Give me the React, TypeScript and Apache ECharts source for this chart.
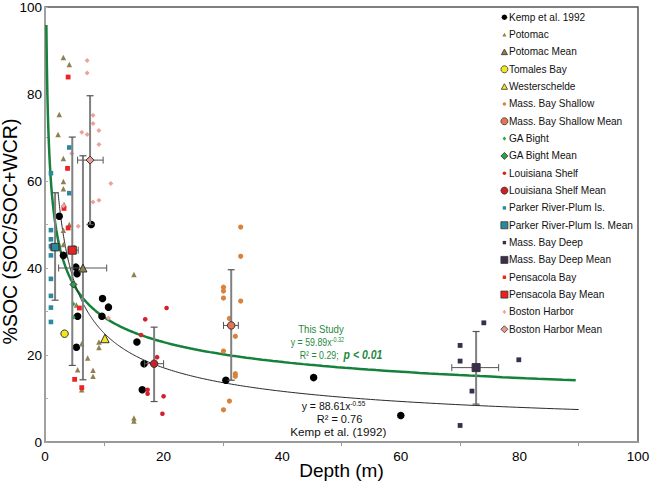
import React, { useEffect, useRef } from "react";
import * as echarts from "echarts";

// ---------- data ----------
const kemp = [[2.4,51.9],[3.1,42.9],[5.2,40.2],[5.4,38.7],[5.5,28.9],[5.3,21.8],[7.8,50.0],[9.7,33.0],[10.7,31.0],[9.6,28.9],[15.5,23.0],[16.7,18.0],[16.4,12.0],[30.5,14.2],[45.3,14.8],[60.0,6.1]];
const potomac = [[3.1,88.4],[4.1,86.8],[2.4,75.3],[2.2,70.7],[3.1,65.2],[3.1,59.9],[3.1,58.2],[3.2,54.6],[4.1,50.0],[3.1,48.7],[3.1,45.4],[5.3,31.5],[15.0,38.5],[6.2,22.6],[9.1,23.0],[9.1,21.7],[7.2,19.3],[5.5,16.6],[8.1,16.5],[8.1,15.1],[6.2,12.0],[15.0,5.5],[15.0,4.8]];
const potomacMean = [[6.4,40.0]];
const tomales = [[3.3,24.9]];
const westerschelde = [[10.1,23.8]];
const massShallow = [[33.0,49.4],[33.0,42.7],[30.1,35.6],[30.1,34.7],[30.1,33.1],[33.0,32.4],[31.1,28.4],[32.1,24.3],[30.1,20.9],[32.1,15.7],[32.1,15.1],[31.1,9.4],[30.1,7.4]];
const massShallowMean = [[31.4,26.8]];
const gaBight = [[4.9,44.8],[4.8,31.7],[4.8,28.7]];
const gaBightMean = [[4.8,36.2]];
const louisiana = [[20.5,30.8],[16.9,28.2],[16.2,24.6],[18.9,19.5],[17.3,12.0],[17.3,11.1],[20.0,10.5],[19.8,6.5]];
const louisianaMean = [[18.4,18.0]];
const parker = [[1.0,61.8],[4.1,67.7],[4.1,57.2],[1.0,48.7],[1.0,46.6],[1.0,45.0],[1.0,42.9],[1.0,37.5],[1.0,33.6],[1.0,30.9],[1.0,27.6]];
const parkerMean = [[1.7,44.8]];
const massDeep = [[74.0,27.4],[70.0,22.2],[70.0,18.6],[79.9,18.9],[72.0,11.7],[70.0,3.8]];
const massDeepMean = [[72.7,17.1]];
const pensacola = [[3.9,83.9],[3.8,62.9],[3.2,53.7],[3.9,49.2],[5.8,30.8],[5.0,14.4],[6.2,12.5]];
const pensacolaMean = [[4.6,44.1]];
const boston = [[7.1,87.7],[7.1,84.8],[8.1,75.1],[8.1,73.2],[9.1,71.6],[6.2,71.2],[7.1,70.7],[9.1,68.4],[4.5,66.3],[11.1,59.4],[9.1,55.6],[8.1,55.2],[3.1,54.3],[5.6,49.6],[10.7,28.5]];
const bostonMean = [[7.6,64.8]];

// error ranges of the means: [xLow, xHigh, yLow, yHigh]
const potomacErr = [2.3, 10.4, 14.3, 65.8];
const parkerErr = [0.9, 2.5, 32.6, 57.3];
const pensacolaErr = [3.9, 5.6, 17.6, 70.1];
const bostonErr = [5.5, 9.8, 50.0, 79.6];
const louisianaErr = [16.8, 20.0, 9.3, 26.4];
const massShallowErr = [30.1, 32.6, 14.2, 39.6];
const massDeepErr = [68.6, 76.5, 8.7, 25.4];

// fitted power laws shown in the chart: y = a * x^b
const thisStudyFit = { a: 59.89, b: -0.32, xMin: 0.23, xMax: 89.5 };
const kempFit = { a: 88.61, b: -0.55, xMin: 2.2, xMax: 90 };

const xTicks = [0, 20, 40, 60, 80, 100];
const yTicks = [0, 20, 40, 60, 80, 100];

// ---------- styling ----------
const FONT = '"Liberation Sans", Arial, sans-serif';
const GREEN = "#1f8a3f";
const BORDER = "#333";
const SQUEEZE = 0.84;

const SMALL_CIRCLE = "path://M0,0M7,7M3.5,1.7L4.8,2.2L5.3,3.5L4.8,4.8L3.5,5.3L2.2,4.8L1.7,3.5L2.2,2.2Z";
const SMALL_RECT = "path://M0,0M7,7M1.8,1.8L5.2,1.8L5.2,5.2L1.8,5.2Z";
const SMALL_TRI = "path://M0,0M7,7M3.5,1.5L5.6,5.3L1.4,5.3Z";
const SMALL_DIAMOND = "path://M0,0M7,7M3.5,1.4L5.3,3.5L3.5,5.6L1.7,3.5Z";
const MID_TRI = "path://M0,0M7,7M3.5,0.6L6.6,6.2L0.4,6.2Z";
const MID_CIRCLE = "path://M0,0M7,7M3.5,0.7L5.5,1.5L6.3,3.5L5.5,5.5L3.5,6.3L1.5,5.5L0.7,3.5L1.5,1.5Z";
const MEAN_ICON_STYLE = { borderColor: BORDER, borderWidth: 0.8 };

function fitCurve(f: { a: number; b: number; xMin: number; xMax: number }) {
  const pts: number[][] = [];
  const n = 240;
  for (let i = 0; i <= n; i++) {
    const x = f.xMin * Math.pow(f.xMax / f.xMin, i / n);
    pts.push([x, f.a * Math.pow(x, f.b)]);
  }
  return pts;
}

function withErr(mean: number[][], err: number[]) {
  return [mean[0][0], mean[0][1], err[0], err[1], err[2], err[3]];
}

const errorData = [
  withErr(parkerMean, parkerErr),
  withErr(pensacolaMean, pensacolaErr),
  withErr(potomacMean, potomacErr),
  withErr(bostonMean, bostonErr),
  withErr(louisianaMean, louisianaErr),
  withErr(massShallowMean, massShallowErr),
  withErr(massDeepMean, massDeepErr),
];

function raw(name: string, data: number[][], symbol: string, size: number, color: string) {
  return {
    name, type: "scatter", data, symbol, symbolSize: size,
    itemStyle: { color, opacity: 1 }, z: 3,
  };
}
function mean(name: string, data: number[][], symbol: string, size: number, color: string) {
  return {
    name, type: "scatter", data, symbol, symbolSize: size,
    itemStyle: { color, borderColor: BORDER, borderWidth: 1, opacity: 1 }, z: 5,
  };
}

export default function App() {
  const ref = useRef<HTMLDivElement>(null);
  useEffect(() => {
    if (!ref.current) return;
    const chart = echarts.init(ref.current, undefined, { renderer: "svg" });

    const legendData = [
      { name: "Kemp et al. 1992", icon: MID_CIRCLE },
      { name: "Potomac", icon: SMALL_TRI },
      { name: "Potomac Mean", icon: MID_TRI, itemStyle: MEAN_ICON_STYLE },
      { name: "Tomales Bay", icon: "circle", itemStyle: MEAN_ICON_STYLE },
      { name: "Westerschelde", icon: MID_TRI, itemStyle: MEAN_ICON_STYLE },
      { name: "Mass. Bay Shallow", icon: SMALL_CIRCLE },
      { name: "Mass. Bay Shallow Mean", icon: "circle", itemStyle: MEAN_ICON_STYLE },
      { name: "GA Bight", icon: SMALL_DIAMOND },
      { name: "GA Bight Mean", icon: "diamond", itemStyle: MEAN_ICON_STYLE },
      { name: "Louisiana Shelf", icon: SMALL_CIRCLE },
      { name: "Louisiana Shelf Mean", icon: "circle", itemStyle: MEAN_ICON_STYLE },
      { name: "Parker River-Plum Is.", icon: SMALL_RECT },
      { name: "Parker River-Plum Is. Mean", icon: "rect", itemStyle: MEAN_ICON_STYLE },
      { name: "Mass. Bay Deep", icon: SMALL_RECT },
      { name: "Mass. Bay Deep Mean", icon: "rect", itemStyle: MEAN_ICON_STYLE },
      { name: "Pensacola Bay", icon: SMALL_RECT },
      { name: "Pensacola Bay Mean", icon: "rect", itemStyle: MEAN_ICON_STYLE },
      { name: "Boston Harbor", icon: SMALL_DIAMOND },
      { name: "Boston Harbor Mean", icon: "diamond", itemStyle: MEAN_ICON_STYLE },
    ];

    const option: any = {
      animation: false,
      backgroundColor: "#fff",
      grid: { left: 45, right: 12, top: 7, bottom: 42, outerBoundsMode: "none", containLabel: false,
        show: true, borderColor: "#555", borderWidth: 1.5, backgroundColor: "transparent" },
      xAxis: {
        type: "value", min: 0, max: 100, interval: 20,
        name: "Depth (m)", nameLocation: "middle", nameGap: 19, nameMoveOverlap: false,
        nameTextStyle: { fontSize: 19, fontFamily: FONT, color: "#000" },
        axisLine: { show: true, lineStyle: { color: "#999", width: 2 } },
        axisTick: { show: false },
        minorTick: { show: true, splitNumber: 2, length: 4, lineStyle: { color: "#999", width: 1 } },
        axisLabel: { fontSize: 13.5, fontFamily: FONT, color: "#000", margin: 7, showMaxLabel: true, showMinLabel: true,
          formatter: (v: number) => (xTicks.includes(v) ? String(v) : "") },
        splitLine: { show: false },
      },
      yAxis: {
        type: "value", min: 0, max: 100, interval: 20,
        name: "%SOC (SOC/SOC+WCR)", nameLocation: "middle", nameGap: 25, nameMoveOverlap: false,
        nameTextStyle: { fontSize: 19.5, fontFamily: FONT, color: "#000", padding: [0, 14, 0, 0] },
        axisLine: { show: true, lineStyle: { color: "#a0a0a0", width: 2 } },
        axisTick: { show: true, inside: true, length: 3, lineStyle: { color: "#aaa" } },
        minorTick: { show: true, splitNumber: 2, length: 3, lineStyle: { color: "#aaa", width: 1 } },
        axisLabel: { fontSize: 13.5, fontFamily: FONT, color: "#000", margin: 3,
          formatter: (v: number) => (yTicks.includes(v) ? String(v) : "") },
        splitLine: { show: false },
      },
      legend: {
        orient: "vertical", left: 500.5, top: 10.8, padding: 0,
        itemWidth: 7, itemHeight: 7, itemGap: 4.33, selectedMode: false,
        itemStyle: { borderWidth: 0 },
        textStyle: { fontSize: 10.1, fontFamily: FONT, color: "#111", lineHeight: 13, padding: [0, 0, 0, -4] },
        data: legendData,
      },
      series: [
        { name: "This Study fit", type: "line", data: fitCurve(thisStudyFit), showSymbol: false, symbol: "none",
          lineStyle: { color: "#16813a", width: 2.5 }, z: 2, silent: true },
        { name: "Kemp fit", type: "line", data: fitCurve(kempFit), showSymbol: false, symbol: "none",
          lineStyle: { color: "#2a2a2a", width: 1 }, z: 2, silent: true },
        raw("Kemp et al. 1992", kemp, "circle", 7.5, "#000"),
        raw("Potomac", potomac, "triangle", 5.5, "#8e8050"),
        raw("Mass. Bay Shallow", massShallow, "circle", 5.2, "#d8823c"),
        raw("GA Bight", gaBight, "diamond", 4.5, "#1fb04a"),
        raw("Louisiana Shelf", louisiana, "circle", 4.6, "#d3202a"),
        raw("Parker River-Plum Is.", parker, "rect", 4.6, "#2a8a9c"),
        raw("Mass. Bay Deep", massDeep, "rect", 4.8, "#3a2e4c"),
        raw("Pensacola Bay", pensacola, "rect", 4.8, "#f02222"),
        raw("Boston Harbor", boston, "diamond", 5, "#eea0a0"),
        {
          name: "error bars", type: "custom", data: errorData, z: 4, silent: true,
          encode: { x: 0, y: 1 },
          renderItem: (_p: any, api: any) => {
            const x = api.value(0), y = api.value(1);
            const xlo = api.value(2), xhi = api.value(3), ylo = api.value(4), yhi = api.value(5);
            const a = api.coord([x, ylo]);
            const b = api.coord([x, yhi]);
            const c = api.coord([xlo, y]);
            const d = api.coord([xhi, y]);
            const cap = 3.5;
            const v = { stroke: "#808080", lineWidth: 2 };
            const cs = { stroke: "#555", lineWidth: 1.2 };
            const h = { stroke: "#555", lineWidth: 1 };
            return {
              type: "group",
              children: [
                { type: "line", shape: { x1: a[0], y1: a[1], x2: b[0], y2: b[1] }, style: v },
                { type: "line", shape: { x1: a[0] - cap, y1: a[1], x2: a[0] + cap, y2: a[1] }, style: cs },
                { type: "line", shape: { x1: b[0] - cap, y1: b[1], x2: b[0] + cap, y2: b[1] }, style: cs },
                { type: "line", shape: { x1: c[0], y1: c[1], x2: d[0], y2: d[1] }, style: h },
                { type: "line", shape: { x1: c[0], y1: c[1] - cap, x2: c[0], y2: c[1] + cap }, style: h },
                { type: "line", shape: { x1: d[0], y1: d[1] - cap, x2: d[0], y2: d[1] + cap }, style: h },
              ],
            };
          },
        },
        mean("Potomac Mean", potomacMean, "triangle", 8, "#8e8050"),
        mean("Tomales Bay", tomales, "circle", 7.5, "#f3e61c"),
        mean("Westerschelde", westerschelde, "triangle", 8.5, "#f3e61c"),
        mean("Mass. Bay Shallow Mean", massShallowMean, "circle", 7.5, "#e8715a"),
        mean("GA Bight Mean", gaBightMean, "diamond", 7, "#2ba14c"),
        mean("Louisiana Shelf Mean", louisianaMean, "circle", 7.5, "#cc1f28"),
        mean("Parker River-Plum Is. Mean", parkerMean, "rect", 7.5, "#2a8a9c"),
        mean("Mass. Bay Deep Mean", massDeepMean, "rect", 8, "#3a2e4c"),
        mean("Pensacola Bay Mean", pensacolaMean, "rect", 8, "#ee2020"),
        mean("Boston Harbor Mean", bostonMean, "diamond", 8, "#e89a92"),
      ],
      graphic: [
        { type: "text", x: 321, y: 329, z: 10, scaleX: SQUEEZE,
          style: { text: "This Study", fill: GREEN, fontSize: 11.5, fontFamily: FONT, align: "center", verticalAlign: "middle" } },
        { type: "text", x: 290.7, y: 342, z: 10, scaleX: SQUEEZE,
          style: { text: "{t|y = 59.89x}{s|-0.32}", align: "left", verticalAlign: "middle",
            rich: { t: { fontSize: 10.5, fontFamily: FONT, fill: GREEN, lineHeight: 12 },
                    s: { fontSize: 6.5, fontFamily: FONT, fill: GREEN, verticalAlign: "top" } } } },
        { type: "text", x: 299.7, y: 355, z: 10, scaleX: SQUEEZE,
          style: { text: "{t|R² = 0.29;  }{b|p < 0.01}", align: "left", verticalAlign: "middle",
            rich: { t: { fontSize: 10.5, fontFamily: FONT, fill: GREEN, lineHeight: 14 },
                    b: { fontSize: 12.5, fontFamily: FONT, fontWeight: "bold", fontStyle: "italic", fill: GREEN, lineHeight: 14 } } } },
        { type: "text", x: 301.7, y: 406, z: 10,
          style: { text: "{t|y = 88.61x}{s|-0.55}", align: "left", verticalAlign: "middle",
            rich: { t: { fontSize: 10.5, fontFamily: FONT, fill: "#111", lineHeight: 12 },
                    s: { fontSize: 6.5, fontFamily: FONT, fill: "#111", verticalAlign: "top" } } } },
        { type: "text", x: 339.5, y: 419, z: 10,
          style: { text: "R² = 0.76", fill: "#111", fontSize: 11, fontFamily: FONT, align: "center", verticalAlign: "middle" } },
        { type: "text", x: 338.3, y: 431.5, z: 10,
          style: { text: "Kemp et al. (1992)", fill: "#111", fontSize: 11.7, fontFamily: FONT, align: "center", verticalAlign: "middle" } },
      ],
    };

    chart.setOption(option);
    return () => chart.dispose();
  }, []);

  return <div ref={ref} style={{ position: "fixed", left: 0, top: 0, width: 650, height: 484 }} />;
}
